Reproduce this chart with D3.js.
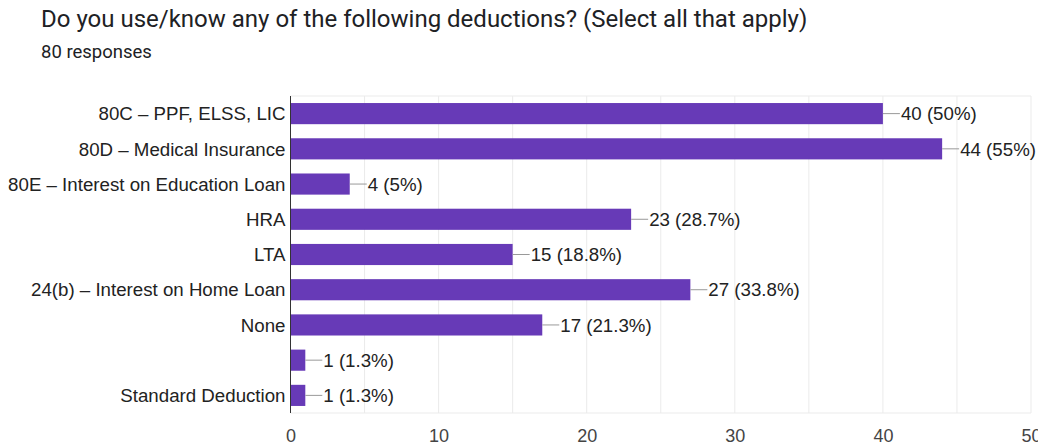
<!DOCTYPE html>
<html>
<head>
<meta charset="utf-8">
<script src="https://cdn.jsdelivr.net/npm/d3@7"></script>
<style>
  html, body { margin: 0; padding: 0; background: #fff; }
  svg { display: block; }
</style>
</head>
<body>
<svg id="chart" width="1038" height="445"></svg>
<script>
// Survey answers, one bar per option
const categories = [
  "80C – PPF, ELSS, LIC",
  "80D – Medical Insurance",
  "80E – Interest on Education Loan",
  "HRA",
  "LTA",
  "24(b) – Interest on Home Loan",
  "None",
  "",
  "Standard Deduction"
];
const counts = [40, 44, 4, 23, 15, 27, 17, 1, 1];
const percentLabels = ["50%", "55%", "5%", "28.7%", "18.8%", "33.8%", "21.3%", "1.3%", "1.3%"];
const xTicks = [0, 10, 20, 30, 40, 50];
const gridValues = [5, 10, 15, 20, 25, 30, 35, 40, 45, 50];

const headFont = "Roboto, 'Noto Sans', sans-serif";
const chartFont = "'Liberation Sans', Arial, sans-serif";

const svg = d3.select("#chart");

// Header
svg.append("text")
  .attr("x", 41).attr("y", 27)
  .attr("font-family", headFont)
  .attr("font-size", 24).attr("fill", "#202124")
  .text("Do you use/know any of the following deductions? (Select all that apply)");
svg.append("text")
  .attr("x", 41).attr("y", 58)
  .attr("font-family", headFont)
  .attr("font-size", 18.5).attr("fill", "#202124")
  .text("80 responses");

const plot = { left: 290.5, right: 1031, top: 96, bottom: 413 };

const x = d3.scaleLinear().domain([0, 50]).range([plot.left, plot.right]);
const y = d3.scaleBand()
  .domain(d3.range(categories.length))
  .range([plot.top, plot.bottom])
  .paddingInner(0.4).paddingOuter(0.2);

// Grid
const g = svg.append("g").attr("font-family", chartFont);
g.selectAll("line.grid")
  .data(gridValues)
  .join("line")
  .attr("x1", d => x(d)).attr("x2", d => x(d))
  .attr("y1", plot.top).attr("y2", plot.bottom)
  .attr("stroke", "#ebebeb").attr("stroke-width", 1);
g.append("line")
  .attr("x1", plot.left).attr("x2", plot.right)
  .attr("y1", plot.top).attr("y2", plot.top)
  .attr("stroke", "#ebebeb");
g.append("line")
  .attr("x1", plot.left).attr("x2", plot.right)
  .attr("y1", plot.bottom).attr("y2", plot.bottom)
  .attr("stroke", "#ebebeb");

// Bars
g.selectAll("rect.bar")
  .data(counts)
  .join("rect")
  .attr("class", "bar")
  .attr("x", x(0))
  .attr("y", (d, i) => y(i))
  .attr("width", d => x(d) - x(0))
  .attr("height", y.bandwidth())
  .attr("fill", "#673ab7");

// Leader lines and value labels
const labels = g.selectAll("g.val")
  .data(counts)
  .join("g")
  .attr("class", "val")
  .attr("transform", (d, i) => `translate(${x(d)},${y(i) + y.bandwidth() / 2})`);
labels.append("line")
  .attr("x1", 0).attr("x2", 17)
  .attr("y1", 0).attr("y2", 0)
  .attr("stroke", "#999").attr("stroke-width", 1);
labels.append("text")
  .attr("x", 18).attr("dy", "0.36em")
  .attr("font-size", 18.7).attr("fill", "#222")
  .text((d, i) => `${d} (${percentLabels[i]})`);

// Category axis
g.selectAll("text.cat")
  .data(categories)
  .join("text")
  .attr("class", "cat")
  .attr("x", plot.left - 5)
  .attr("y", (d, i) => y(i) + y.bandwidth() / 2)
  .attr("dy", "0.36em")
  .attr("text-anchor", "end")
  .attr("font-size", 18.7).attr("fill", "#222")
  .text(d => d);
g.append("line")
  .attr("x1", plot.left).attr("x2", plot.left)
  .attr("y1", plot.top).attr("y2", plot.bottom)
  .attr("stroke", "#333").attr("stroke-width", 1);

// Value axis
const xAxis = d3.axisBottom(x).tickValues(xTicks).tickSize(0).tickPadding(16);
const ax = svg.append("g")
  .attr("transform", `translate(0,${plot.bottom})`)
  .call(xAxis);
ax.select(".domain").remove();
ax.selectAll("text")
  .attr("font-size", 18)
  .attr("font-family", chartFont)
  .attr("fill", "#444");
</script>
</body>
</html>
